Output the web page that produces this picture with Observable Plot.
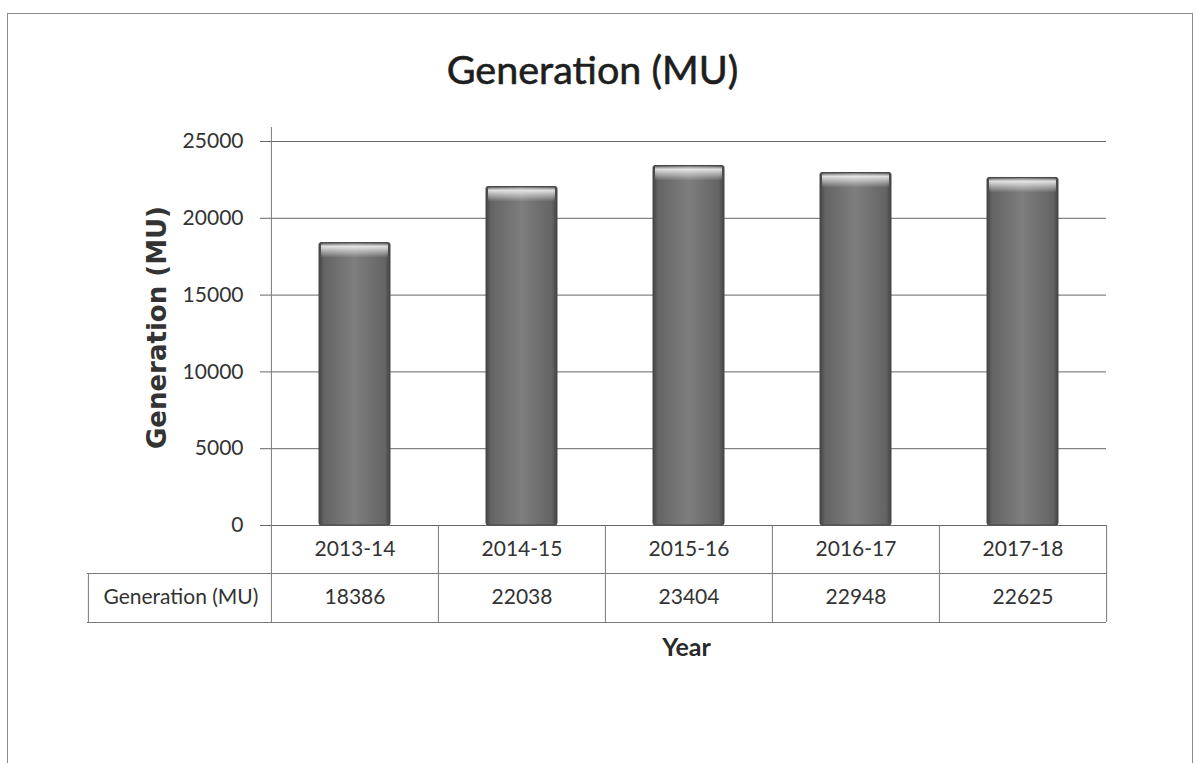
<!DOCTYPE html>
<html>
<head>
<meta charset="utf-8">
<script src="https://cdn.jsdelivr.net/npm/d3@7"></script>
<script src="https://cdn.jsdelivr.net/npm/@observablehq/plot@0.6"></script>
<style>
  html, body { margin: 0; padding: 0; background: #ffffff; overflow: hidden; }
  #chart { position: absolute; left: 0; top: 0; }
  #border { position: absolute; left: 7px; top: 13px; width: 1184px; height: 800px;
            border: 1.5px solid #8c8c8c; pointer-events: none; }
</style>
</head>
<body>
<div id="chart"></div>
<div id="border"></div>
<script>
// ---- data ----
const years = ["2013-14", "2014-15", "2015-16", "2016-17", "2017-18"];
const generation = [18386, 22038, 23404, 22948, 22625];
const yTicks = [0, 5000, 10000, 15000, 20000, 25000];
const titleText = "Generation (MU)";
const yLabelText = "Generation (MU)";
const xLabelText = "Year";
const rowLabelText = "Generation (MU)";

// ---- table for marks ----
const rows = years.map((year, i) => ({year, value: generation[i]}));

// ---- layout ----
const W = 1196, H = 763;
const mL = 270, mR = 90, mT = 141, mB = 238;
const plotH = H - mT - mB;
const bw = (W - mL - mR) / years.length;
const row1 = 48, row2 = 97;   // table row offsets below the baseline
const labelColW = 183;        // width of the row-label column
const lineColor = "#7a7a7a";

function gradients() {
  const defs = d3.create("svg:defs");
  const g = defs.append("linearGradient").attr("id", "barGrad")
    .attr("x1", "0").attr("x2", "1").attr("y1", "0").attr("y2", "0");
  [[0, "#434343"], [0.07, "#646464"], [0.5, "#7e7e7e"], [0.93, "#646464"], [1, "#434343"]]
    .forEach(([o, c]) => g.append("stop").attr("offset", o).attr("stop-color", c));
  const b = defs.append("linearGradient").attr("id", "bevel")
    .attr("x1", "0").attr("x2", "0").attr("y1", "0").attr("y2", "1");
  [[0, "#ffffff", 0.15], [0.2, "#ffffff", 0.8], [1, "#ffffff", 0]]
    .forEach(([o, c, a]) => b.append("stop").attr("offset", o).attr("stop-color", c).attr("stop-opacity", a));
  return defs.node();
}

const chart = Plot.plot({
  width: W,
  height: H,
  marginLeft: mL,
  marginRight: mR,
  marginTop: mT,
  marginBottom: mB,
  style: {fontFamily: "Lato, sans-serif", fontSize: "21px", color: "#2e2e2e", background: "transparent", overflow: "visible"},
  x: {type: "band", domain: years, padding: 0, axis: null},
  y: {domain: [0, 25000]},
  marks: [
    gradients,
    Plot.gridY(yTicks, {stroke: "#666", strokeOpacity: 1, strokeWidth: 1}),
    Plot.axisY({ticks: yTicks, tickSize: 10, tickPadding: 17, tickFormat: d => String(d), label: null, stroke: "#666", fill: "#333"}),
    // bars
    Plot.barY(rows, {x: "year", y: "value", fill: "url(#barGrad)", stroke: "#484848", strokeWidth: 1, insetLeft: 48, insetRight: 48, rx: 2}),
    Plot.barY(rows, {x: "year", y1: "value", y2: "value", insetTop: 1, insetBottom: -15, insetLeft: 50, insetRight: 50, fill: "url(#bevel)"}),
    // y axis line (continues into the table)
    Plot.ruleX([years[0]], {dx: -bw / 2, insetTop: -14, insetBottom: -row2, stroke: lineColor}),
    // table vertical lines
    Plot.ruleX(years.slice(1), {dx: -bw / 2, insetTop: plotH, insetBottom: -row2, stroke: lineColor}),
    Plot.ruleX([years[years.length - 1]], {dx: bw / 2, insetTop: plotH, insetBottom: -row2, stroke: lineColor}),
    Plot.ruleX([years[0]], {dx: -bw / 2 - labelColW, insetTop: plotH + row1, insetBottom: -row2, stroke: lineColor}),
    // table horizontal lines
    Plot.ruleY([0], {dy: row1, insetLeft: -labelColW, stroke: lineColor}),
    Plot.ruleY([0], {dy: row2, insetLeft: -labelColW, stroke: lineColor}),
    // table text
    Plot.text(rows, {x: "year", frameAnchor: "bottom", lineAnchor: "middle", dy: 24, text: "year", fontSize: 21, fill: "#333"}),
    Plot.text(rows, {x: "year", frameAnchor: "bottom", lineAnchor: "middle", dy: 72, text: d => String(d.value), fontSize: 21, fill: "#333"}),
    Plot.text([rowLabelText], {x: () => years[0], frameAnchor: "bottom", lineAnchor: "middle", dx: -bw / 2 - labelColW / 2 + 1, dy: 72, text: d => d, fontSize: 21, fill: "#333"}),
    // titles
    Plot.text([titleText], {frameAnchor: "top", lineAnchor: "middle", textAnchor: "middle", dx: -96, dy: -70, text: d => d, fontSize: 39.5, fill: "#1e1e1e", stroke: "#1e1e1e", strokeWidth: 0.6}),
    Plot.text([yLabelText], {frameAnchor: "left", lineAnchor: "middle", textAnchor: "middle", dx: -113, dy: -6, rotate: -90, text: d => d, fontSize: 26, fontWeight: "bold", fontFamily: "DejaVu Sans, sans-serif", fill: "#333"}),
    Plot.text([xLabelText], {frameAnchor: "bottom", lineAnchor: "middle", textAnchor: "middle", dx: -2, dy: 122, text: d => d, fontSize: 25, fontWeight: "bold", fill: "#2a2a2a"})
  ]
});

document.getElementById("chart").appendChild(chart);
</script>
</body>
</html>
